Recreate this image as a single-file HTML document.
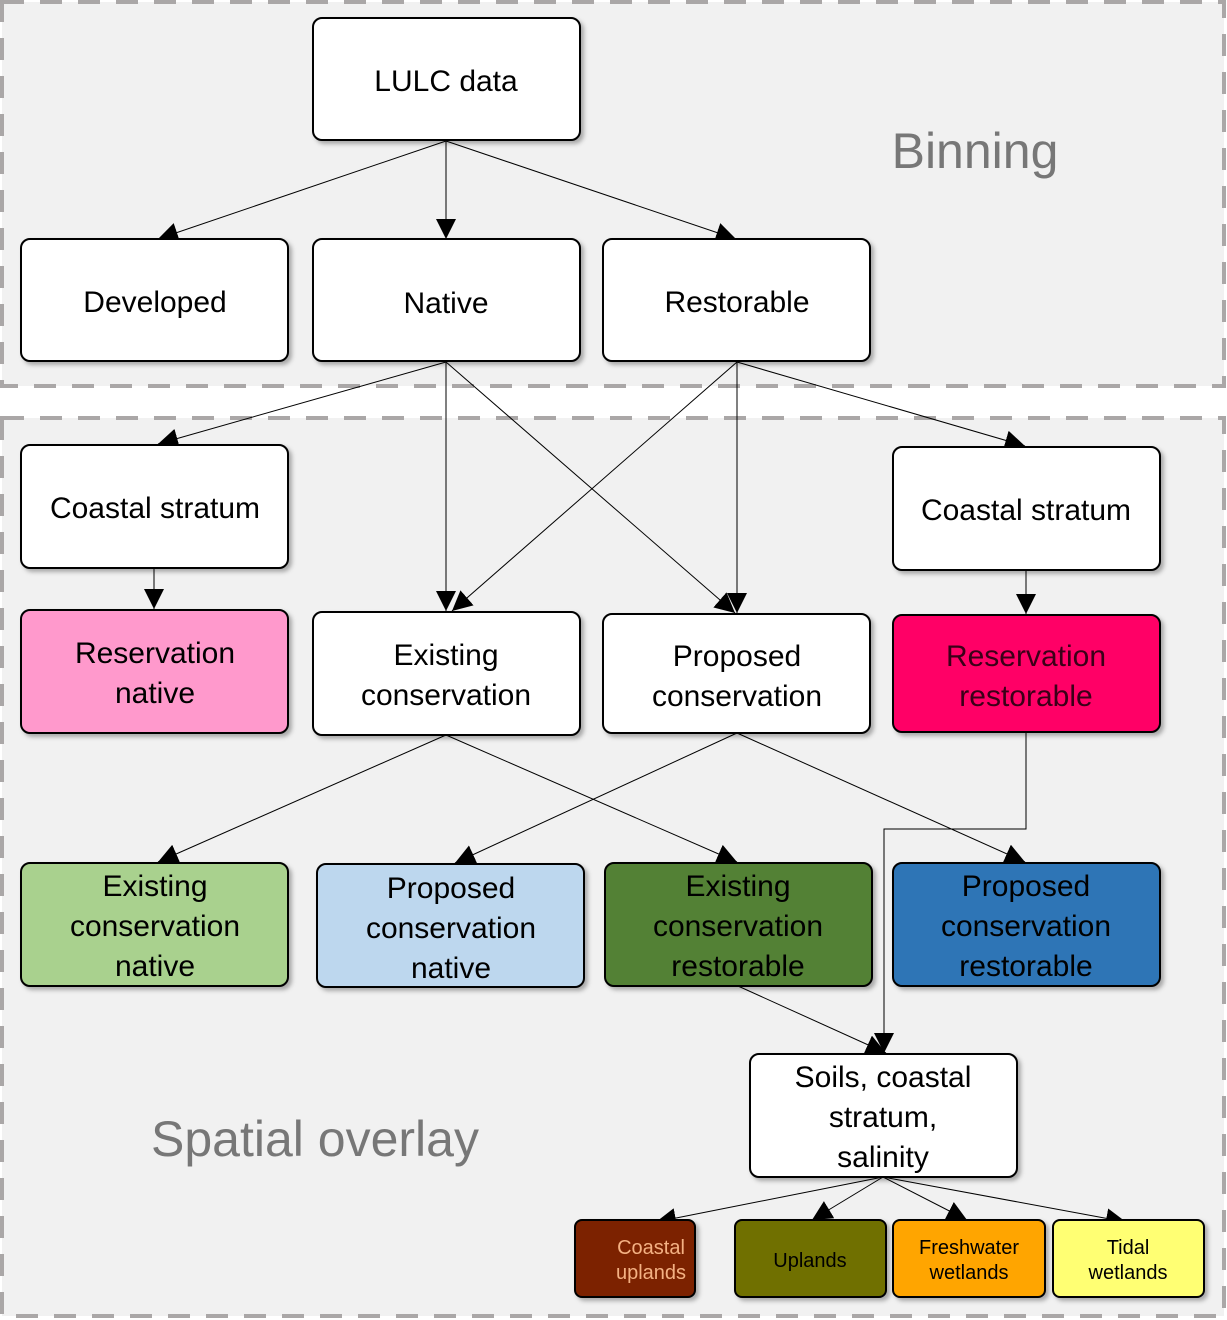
<!DOCTYPE html>
<html><head><meta charset="utf-8"><style>
html,body{margin:0;padding:0;background:#fff;}
svg{display:block;font-family:"Liberation Sans",sans-serif;}
</style></head><body>
<svg width="1227" height="1320" viewBox="0 0 1227 1320" xmlns="http://www.w3.org/2000/svg">
<defs>
<marker id="a" viewBox="0 0 10 10" refX="10" refY="5" markerWidth="20" markerHeight="20" markerUnits="userSpaceOnUse" orient="auto"><path d="M0,0L10,5L0,10z" fill="#000"/></marker>
<filter id="sh" x="-10%" y="-10%" width="130%" height="130%"><feDropShadow dx="3" dy="3" stdDeviation="2" flood-color="#000" flood-opacity="0.3"/></filter>
</defs>
<rect x="2" y="2" width="1222" height="384" fill="#f1f1f1" stroke="#aaa7a7" stroke-width="4" stroke-dasharray="22,16"/>
<rect x="2" y="418" width="1222" height="898" fill="#f1f1f1" stroke="#aaa7a7" stroke-width="4" stroke-dasharray="22,16"/>
<text x="975" y="168" font-size="50" fill="#777" text-anchor="middle">Binning</text>
<text x="315" y="1156" font-size="50" fill="#777" text-anchor="middle">Spatial overlay</text>
<g stroke="#000" stroke-width="1" fill="none" marker-end="url(#a)">
<line x1="446" y1="141" x2="158" y2="239"/>
<line x1="446" y1="141" x2="446" y2="239"/>
<line x1="446" y1="141" x2="736" y2="239"/>
<line x1="446" y1="362" x2="158" y2="444"/>
<line x1="446" y1="362" x2="446" y2="611"/>
<line x1="446" y1="362" x2="735" y2="613"/>
<line x1="737" y1="362" x2="452" y2="611"/>
<line x1="737" y1="362" x2="737" y2="613"/>
<line x1="737" y1="362" x2="1025" y2="446"/>
<line x1="154" y1="568" x2="154" y2="609"/>
<line x1="1026" y1="570" x2="1026" y2="614"/>
<line x1="446" y1="735" x2="158" y2="862"/>
<line x1="446" y1="735" x2="737" y2="862"/>
<line x1="737" y1="733" x2="455" y2="863"/>
<line x1="737" y1="733" x2="1025" y2="862"/>
<polyline points="1026,732 1026,829 884,829 884,1053"/>
<line x1="738" y1="986" x2="886" y2="1053"/>
<line x1="883" y1="1177" x2="656" y2="1222"/>
<line x1="883" y1="1177" x2="812" y2="1220"/>
<line x1="883" y1="1177" x2="967" y2="1220"/>
<line x1="883" y1="1177" x2="1126" y2="1222"/>
</g>
<g stroke="#000" stroke-width="2" filter="url(#sh)">
<rect x="313" y="18" width="267" height="122" rx="9" fill="#fff"/>
<rect x="21" y="239" width="267" height="122" rx="9" fill="#fff"/>
<rect x="313" y="239" width="267" height="122" rx="9" fill="#fff"/>
<rect x="603" y="239" width="267" height="122" rx="9" fill="#fff"/>
<rect x="21" y="445" width="267" height="123" rx="9" fill="#fff"/>
<rect x="893" y="447" width="267" height="123" rx="9" fill="#fff"/>
<rect x="21" y="610" width="267" height="123" rx="9" fill="#ff99cc"/>
<rect x="313" y="612" width="267" height="123" rx="9" fill="#fff"/>
<rect x="603" y="614" width="267" height="119" rx="9" fill="#fff"/>
<rect x="893" y="615" width="267" height="117" rx="9" fill="#ff0066"/>
<rect x="21" y="863" width="267" height="123" rx="9" fill="#a9d18e"/>
<rect x="317" y="864" width="267" height="123" rx="9" fill="#bdd7ee"/>
<rect x="605" y="863" width="267" height="123" rx="9" fill="#538135"/>
<rect x="893" y="863" width="267" height="123" rx="9" fill="#2e75b6"/>
<rect x="750" y="1054" width="267" height="123" rx="9" fill="#fff"/>
<rect x="575" y="1220" width="120" height="77" rx="7" fill="#7b2004"/>
<rect x="735" y="1220" width="151" height="77" rx="7" fill="#6f7000"/>
<rect x="893" y="1220" width="152" height="77" rx="7" fill="#ffa500"/>
<rect x="1053" y="1220" width="151" height="77" rx="7" fill="#ffff73"/>
</g>
<g font-size="30" text-anchor="middle" fill="#000">
<text x="446" y="91">LULC data</text>
<text x="155" y="312">Developed</text>
<text x="446" y="313">Native</text>
<text x="737" y="312">Restorable</text>
<text x="155" y="518">Coastal stratum</text>
<text x="1026" y="520">Coastal stratum</text>
<text x="155" y="663">Reservation</text><text x="155" y="703">native</text>
<text x="446" y="665">Existing</text><text x="446" y="705">conservation</text>
<text x="737" y="666">Proposed</text><text x="737" y="706">conservation</text>
<text x="1026" y="666" fill="#3a0018">Reservation</text><text x="1026" y="706" fill="#3a0018">restorable</text>
<text x="155" y="896">Existing</text><text x="155" y="936">conservation</text><text x="155" y="976">native</text>
<text x="451" y="898">Proposed</text><text x="451" y="938">conservation</text><text x="451" y="978">native</text>
<text x="738" y="896">Existing</text><text x="738" y="936">conservation</text><text x="738" y="976">restorable</text>
<text x="1026" y="896">Proposed</text><text x="1026" y="936">conservation</text><text x="1026" y="976">restorable</text>
<text x="883" y="1087">Soils, coastal</text><text x="883" y="1127">stratum,</text><text x="883" y="1167">salinity</text>
</g>
<g font-size="20" text-anchor="middle">
<text x="651" y="1254" fill="#f4b183">Coastal</text><text x="651" y="1279" fill="#f4b183">uplands</text>
<text x="810" y="1267" fill="#000">Uplands</text>
<text x="969" y="1254" fill="#000">Freshwater</text><text x="969" y="1279" fill="#000">wetlands</text>
<text x="1128" y="1254" fill="#000">Tidal</text><text x="1128" y="1279" fill="#000">wetlands</text>
</g>
</svg>
</body></html>
